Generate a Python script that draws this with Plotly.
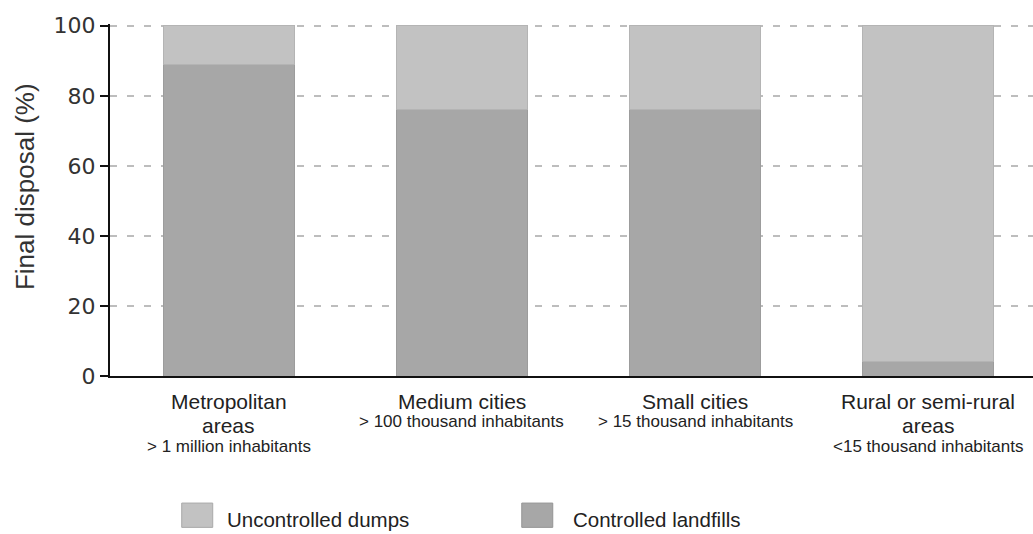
import plotly.graph_objects as go

# Final disposal of solid waste by settlement size (%)
categories = ["metro", "medium", "small", "rural"]
cat_titles = [["Metropolitan", "areas"], ["Medium cities"], ["Small cities"], ["Rural or semi-rural", "areas"]]
cat_notes = ["> 1 million inhabitants", "> 100 thousand inhabitants",
             "> 15 thousand inhabitants", "<15 thousand inhabitants"]
controlled_landfills = [89, 76, 76, 4]
uncontrolled_dumps = [11, 24, 24, 96]
y_ticks = [0, 20, 40, 60, 80, 100]

COLOR_CONTROLLED = "#a7a7a7"
COLOR_UNCONTROLLED = "#c2c2c2"
TEXT_FONT = "Liberation Sans, Arial, sans-serif"

fig = go.Figure()
fig.add_trace(go.Bar(
    x=categories, y=controlled_landfills, name="Controlled landfills",
    marker=dict(color=COLOR_CONTROLLED, line=dict(color="#9c9c9c", width=1)), width=0.56,
))
fig.add_trace(go.Bar(
    x=categories, y=uncontrolled_dumps, name="Uncontrolled dumps",
    marker=dict(color=COLOR_UNCONTROLLED, line=dict(color="#b4b4b4", width=1)), width=0.56,
))

# Category labels: title lines in a larger font, population note below
annotations = []
MAIN_SIZE, NOTE_SIZE = 21, 17
for cat, lines, note in zip(categories, cat_titles, cat_notes):
    for i, line in enumerate(lines):
        annotations.append(dict(
            x=cat, xref="x", y=0, yref="paper", text=line, showarrow=False,
            xanchor="center", yanchor="middle", yshift=-25 - 24 * i,
            font=dict(family=TEXT_FONT, size=MAIN_SIZE, color="#222"),
        ))
    annotations.append(dict(
        x=cat, xref="x", y=0, yref="paper", text=note, showarrow=False,
        xanchor="center", yanchor="middle", yshift=-45 - 25 * (len(lines) - 1),
        font=dict(family=TEXT_FONT, size=NOTE_SIZE, color="#222"),
    ))

# Y-axis title, set slightly above the plot's vertical centre
annotations.append(dict(
    x=-0.092, xref="paper", y=0.537, yref="paper", text="Final disposal (%)",
    showarrow=False, textangle=-90, xanchor="center", yanchor="middle",
    font=dict(family=TEXT_FONT, size=26, color="#333"),
))

# Legend drawn as large swatches with labels beneath the chart
legend_items = [("Uncontrolled dumps", COLOR_UNCONTROLLED, 0.0777, 0.1246),
                ("Controlled landfills", COLOR_CONTROLLED, 0.4461, 0.4991)]
shapes = []
for label, color, sx, tx in legend_items:
    shapes.append(dict(
        type="rect", xref="paper", yref="paper",
        x0=sx, x1=sx + 0.0336, y0=-0.43, y1=-0.361,
        fillcolor=color, line=dict(color="#a9a9a9" if color == COLOR_UNCONTROLLED else "#959595", width=1),
    ))
    annotations.append(dict(
        x=tx, xref="paper", y=-0.408, yref="paper", text=label, showarrow=False,
        xanchor="left", yanchor="middle",
        font=dict(family=TEXT_FONT, size=20.5, color="#222"),
    ))

fig.update_layout(
    barmode="stack",
    width=1033, height=534,
    margin=dict(l=110, r=0, t=24, b=158),
    paper_bgcolor="white", plot_bgcolor="white",
    font=dict(family=TEXT_FONT, color="#222", size=15),
    showlegend=False,
    annotations=annotations,
    shapes=shapes,
    xaxis=dict(
        range=[-0.51, 3.45],
        showticklabels=False,
        showline=True, linecolor="#111", linewidth=2,
        ticks="", showgrid=False,
    ),
    yaxis=dict(
        range=[0, 100.5],
        tickvals=y_ticks,
        showline=True, linecolor="#111", linewidth=2,
        ticks="outside", ticklen=8, tickcolor="#111", tickwidth=1.5,
        showgrid=True, gridcolor="#bdbdbd", gridwidth=1.5, griddash="7px,10px",
        zeroline=False,
        tickfont=dict(family="DejaVu Sans, sans-serif", size=22, color="#333"),
    ),
)

fig.write_html("out.html")
